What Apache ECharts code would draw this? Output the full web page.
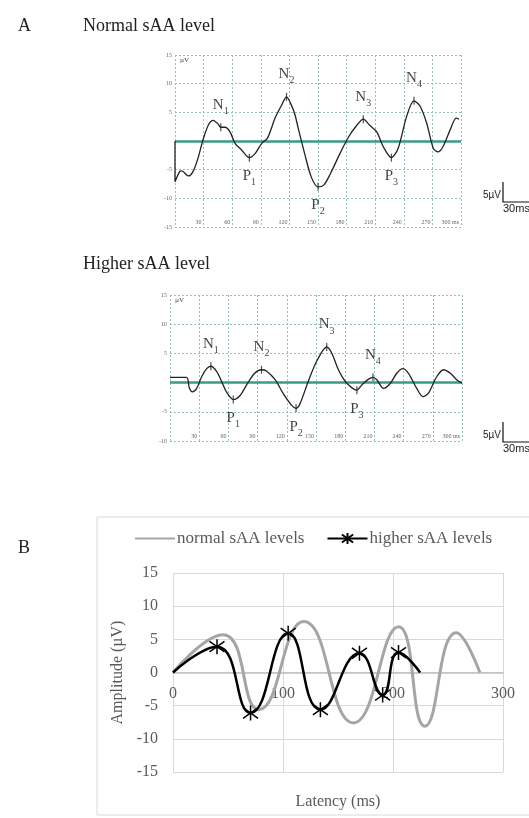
<!DOCTYPE html>
<html><head><meta charset="utf-8">
<script src="https://cdn.jsdelivr.net/npm/echarts@6/dist/echarts.min.js"></script>
<style>html,body{margin:0;padding:0;background:#fff}#c{width:529px;height:818px}</style>
</head><body><div id="c"></div>
<script>
// ---------- Panel A: normal sAA level waveform ----------
const normalLatency = [0, 0, 5, 7, 14, 19, 24.5, 29, 35, 40, 45, 48, 52.5, 57.7, 63, 70, 78, 84, 91, 97, 105, 112, 117, 122, 126, 129, 136, 143, 150, 156, 163, 173, 182, 190.6, 197.5, 204.5, 211.6, 218.5, 227, 234, 243, 250.7, 257, 264, 271, 276, 281, 288.5, 295, 298];
const normalAmplitude = [0, -7.1, -5.3, -5.2, -6.1, -5.3, -2.8, 0, 2.8, 3.6, 3.0, 2.4, 2.4, 1.6, -0.4, -1.6, -2.9, -2.2, -0.4, 0.5, 4.0, 6.3, 7.7, 6.3, 4.5, 2.4, -2.2, -6.3, -8.0, -7.7, -5.7, -2.2, 0.7, 2.7, 3.8, 2.7, 1.6, -1.0, -2.9, -1.3, 4.3, 7.0, 6.1, 3.1, -1.3, -1.9, -1.0, 1.9, 4.0, 3.8];
const normalPeakNames = ['N1', 'P1', 'N2', 'P2', 'N3', 'P3', 'N4'];
const normalPeakLatency = [48, 78, 117, 150, 197.5, 227, 250.7];
const normalPeakAmplitude = [2.4, -2.9, 7.7, -8.0, 3.8, -2.9, 7.0];

// ---------- Panel A: higher sAA level waveform ----------
const higherLatency = [0, 17, 19.8, 23, 27.4, 32.5, 37.7, 42, 48, 53, 58, 65, 72, 79, 87, 94, 99, 108, 116.4, 125, 129.5, 133.6, 142, 150.8, 161, 166, 173, 180, 187, 192, 197, 204, 208.5, 212.5, 219.3, 226, 233, 239, 245, 253.5, 260, 265.5, 274, 281, 288, 294.5, 300];
const higherAmplitude = [0.9, 0.9, -0.9, -1.6, -1.0, 1.0, 2.4, 2.8, 1.9, 0.2, -1.6, -2.9, -2.2, -0.3, 1.6, 2.2, 2.0, 0.5, -1.9, -3.9, -4.4, -3.6, 0.2, 3.7, 6.1, 5.1, 2.2, 0.2, -0.9, -1.3, -0.4, 0.6, 0.9, 0.5, -1.0, -0.2, 1.6, 2.4, 1.6, -1.0, -2.4, -1.8, 1.0, 2.2, 1.6, 0.5, -0.1];
const higherPeakNames = ['N1', 'P1', 'N2', 'P2', 'N3', 'P3', 'N4'];
const higherPeakLatency = [42, 65, 94, 129.5, 161, 192, 208.5];
const higherPeakAmplitude = [2.8, -2.9, 2.2, -4.4, 6.1, -1.3, 0.9];

// ---------- Panel B: averaged peaks ----------
const bSeriesNames = ['normal sAA levels', 'higher sAA levels'];
const bNormalLatency = [0, 45.5, 78, 119, 164, 205, 229, 257.5, 279];
const bNormalAmplitude = [0, 5.7, -5.6, 7.7, -7.6, 6.9, -8.1, 6.0, 0];
const bHigherLatency = [0, 40, 70.5, 104.7, 134, 169.5, 190.6, 205, 224.7];
const bHigherAmplitude = [0, 3.9, -6.1, 5.9, -5.6, 2.9, -3.4, 3.0, 0];

// ---------- Texts ----------
const panelTitles = ['A', 'Normal sAA level', 'Higher sAA level', 'B'];
const scaleBarTexts = ['5µV', '30ms'];
const aUnitText = 'µV';
const bAxisNames = ['Latency (ms)', 'Amplitude (µV)'];

const GRIDC = '#93c3b8';
const SERIF = 'Liberation Serif';
const zip = (a, b) => a.map((v, i) => [v, b[i]]);

function aX(gi) {
  return {
    type: 'value', gridIndex: gi, min: 0, max: 300, interval: 30,
    axisLine: {show: false}, axisTick: {show: false},
    splitLine: {show: true, lineStyle: {color: GRIDC, type: [2, 2], width: 1}},
    axisLabel: {inside: true, margin: 2, align: 'right', fontSize: 6, color: '#666', fontFamily: SERIF,
      padding: [0, 2, 0, 0],
      formatter: v => v === 0 ? '' : (v === 300 ? '300 ms' : String(v))}
  };
}
function aY(gi, min) {
  return {
    type: 'value', gridIndex: gi, min: min, max: 15, interval: 5,
    axisLine: {show: false}, axisTick: {show: false},
    splitLine: {show: true, lineStyle: {color: GRIDC, type: [2, 2], width: 1}},
    axisLabel: {margin: 3, fontSize: 6, color: '#666', fontFamily: SERIF,
      formatter: v => v === 0 ? '' : String(v)}
  };
}
function wave(gi, lat, amp) {
  return {
    type: 'line', xAxisIndex: gi, yAxisIndex: gi, data: zip(lat, amp), smooth: 0.3,
    symbol: 'none', lineStyle: {color: '#222', width: 1.3}, z: 5,
    markLine: {silent: true, symbol: 'none', label: {show: false},
      lineStyle: {color: '#3a9b86', width: 2.5, type: 'solid'}, data: [{yAxis: 0}]}
  };
}
function peaks(gi, names, lat, amp) {
  return {
    type: 'scatter', xAxisIndex: gi, yAxisIndex: gi, z: 6,
    symbol: 'rect', symbolSize: [1.2, 8], itemStyle: {color: '#222'},
    data: names.map((n, i) => ({
      value: [lat[i], amp[i]], name: n,
      label: {position: n[0] === 'N' ? 'top' : 'bottom'}
    })),
    label: {show: true, distance: 7, fontFamily: SERIF, color: '#111',
      formatter: p => '{m|' + p.name[0] + '}{s|' + p.name.slice(1) + '}',
      rich: {m: {fontSize: 15, fontFamily: SERIF, color: '#111', verticalAlign: 'bottom', padding: [0, 0, 4, 0]},
             s: {fontSize: 10, fontFamily: SERIF, color: '#111', verticalAlign: 'bottom'}}}
  };
}

const txt = (x, y, s, extra) => Object.assign({type: 'text', x: x, y: y,
  style: Object.assign({text: s, fontFamily: SERIF, fontSize: 18, fill: '#222', verticalAlign: 'middle'}, extra || {})});

function scaleBar(y0) {
  return [
    {type: 'polyline', shape: {points: [[503, y0], [503, y0 + 20], [545, y0 + 20]]}, style: {stroke: '#111', lineWidth: 1.2, fill: null}},
    {type: 'text', x: 501, y: y0 + 13, style: {text: scaleBarTexts[0], fontFamily: 'Liberation Sans', fontSize: 10, fill: '#222', align: 'right', verticalAlign: 'middle'}},
    {type: 'text', x: 503, y: y0 + 21, style: {text: scaleBarTexts[1], fontFamily: 'Liberation Sans', fontSize: 11, fill: '#222', align: 'left', verticalAlign: 'top'}}
  ];
}

const starPath = 'path://M0,-10L0,10M-7.07,-7.07L7.07,7.07M-7.07,7.07L7.07,-7.07';

const option = {
  animation: false,
  backgroundColor: '#fff',
  grid: [
    {left: 175, top: 55, width: 286, height: 172, outerBoundsMode: 'none'},
    {left: 170, top: 295, width: 292, height: 146, outerBoundsMode: 'none'},
    {left: 173, top: 573, width: 330, height: 199, outerBoundsMode: 'none'}
  ],
  xAxis: [aX(0), aX(1), {
    type: 'value', gridIndex: 2, min: 0, max: 300, interval: 100,
    axisLine: {show: true, onZero: true, lineStyle: {color: '#bfbfbf', width: 1.5}},
    axisTick: {show: false},
    splitLine: {show: true, lineStyle: {color: '#d9d9d9', width: 1}},
    axisLabel: {margin: -86, fontSize: 16, color: '#595959', fontFamily: SERIF},
    name: bAxisNames[0], nameLocation: 'middle', nameGap: 22,
    nameTextStyle: {fontSize: 16, color: '#595959', fontFamily: SERIF}
  }],
  yAxis: [aY(0, -15), aY(1, -10), {
    type: 'value', gridIndex: 2, min: -15, max: 15, interval: 5,
    axisLine: {show: false}, axisTick: {show: false},
    splitLine: {show: true, lineStyle: {color: '#d9d9d9', width: 1}},
    axisLabel: {margin: 15, fontSize: 16, color: '#595959', fontFamily: SERIF},
    name: bAxisNames[1], nameLocation: 'middle', nameGap: 40,
    nameTextStyle: {fontSize: 16, color: '#595959', fontFamily: SERIF}
  }],
  legend: {
    data: [{name: bSeriesNames[0], itemStyle: {opacity: 0}}, {name: bSeriesNames[1]}],
    left: 129, top: 525, itemWidth: 40, itemHeight: 14, itemGap: 22,
    textStyle: {fontSize: 17, color: '#595959', fontFamily: SERIF, padding: [0, 0, 0, -3]}
  },
  series: [
    wave(0, normalLatency, normalAmplitude),
    peaks(0, normalPeakNames, normalPeakLatency, normalPeakAmplitude),
    wave(1, higherLatency, higherAmplitude),
    peaks(1, higherPeakNames, higherPeakLatency, higherPeakAmplitude),
    {
      name: bSeriesNames[0], type: 'line', xAxisIndex: 2, yAxisIndex: 2, smooth: true,
      data: zip(bNormalLatency, bNormalAmplitude), symbol: 'none',
      lineStyle: {color: '#a5a5a5', width: 3}, itemStyle: {color: '#a5a5a5'}, z: 3
    },
    {
      name: bSeriesNames[1], type: 'line', xAxisIndex: 2, yAxisIndex: 2, smooth: true,
      data: zip(bHigherLatency, bHigherAmplitude).map((p, i, a) =>
        (i === 0 || i === a.length - 1) ? {value: p, symbol: 'none'} : {value: p}),
      symbol: starPath, symbolSize: 15, showAllSymbol: true,
      lineStyle: {color: '#000', width: 2.5},
      itemStyle: {color: 'rgba(0,0,0,0)', borderColor: '#000', borderWidth: 1.5}, z: 4
    }
  ],
  graphic: [
    {type: 'rect', shape: {x: 97, y: 517, width: 440, height: 298}, style: {stroke: '#d9d9d9', fill: null, lineWidth: 1}, silent: true},
    txt(18, 26, panelTitles[0]),
    txt(83, 26, panelTitles[1]),
    txt(83, 264, panelTitles[2]),
    txt(18, 548, panelTitles[3]),
    {type: 'text', x: 180, y: 57, style: {text: aUnitText, fontFamily: SERIF, fontSize: 7, fill: '#444'}},
    {type: 'text', x: 175, y: 297, style: {text: aUnitText, fontFamily: SERIF, fontSize: 7, fill: '#444'}}
  ].concat(scaleBar(182), scaleBar(422))
};

const chart = echarts.init(document.getElementById('c'), null, {renderer: 'canvas'});
chart.setOption(option);
</script>
</body></html>
